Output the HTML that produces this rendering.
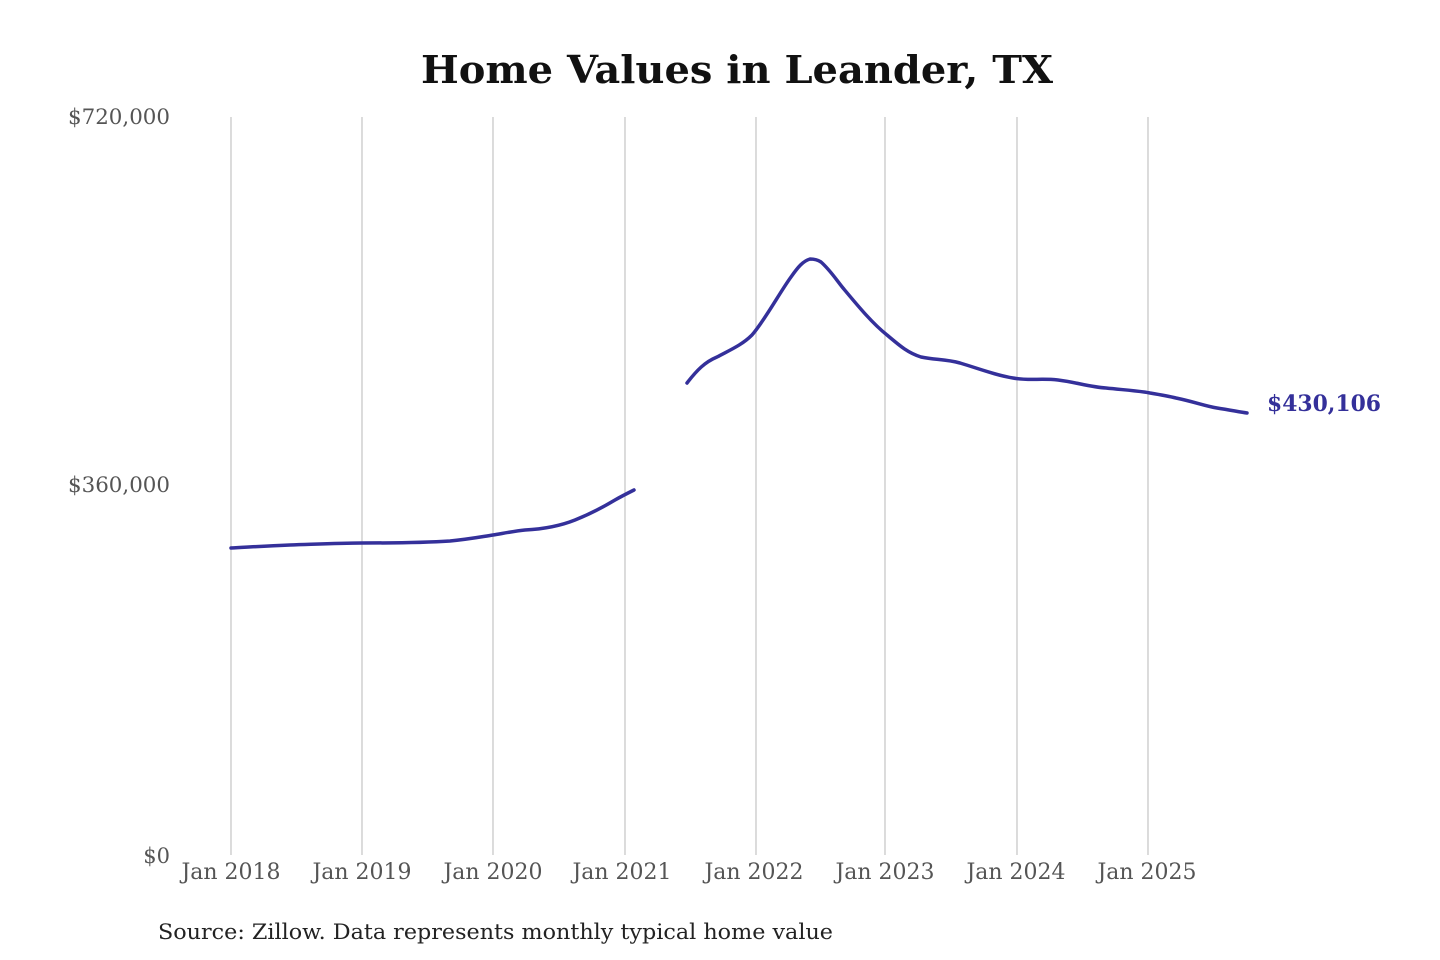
<!DOCTYPE html>
<html><head><meta charset="utf-8"><style>
html,body{margin:0;padding:0;background:#fff;}
svg{display:block;}
text{font-family:"DejaVu Serif","Liberation Serif",serif;}
</style></head><body>
<svg width="1440" height="960" viewBox="0 0 1440 960" xmlns="http://www.w3.org/2000/svg">
<rect width="1440" height="960" fill="#fff"/>
<text x="737" y="83" text-anchor="middle" font-size="38" font-weight="bold" fill="#111" textLength="632" lengthAdjust="spacingAndGlyphs">Home Values in Leander, TX</text>
<g stroke="#c8c8c8" stroke-width="1.3">
<line x1="231" y1="117" x2="231" y2="855"/>
<line x1="362" y1="117" x2="362" y2="855"/>
<line x1="493" y1="117" x2="493" y2="855"/>
<line x1="625" y1="117" x2="625" y2="855"/>
<line x1="756" y1="117" x2="756" y2="855"/>
<line x1="885" y1="117" x2="885" y2="855"/>
<line x1="1017" y1="117" x2="1017" y2="855"/>
<line x1="1148" y1="117" x2="1148" y2="855"/>
</g>
<g font-size="21" fill="#555" text-anchor="end">
<text x="170" y="124" textLength="102" lengthAdjust="spacingAndGlyphs">$720,000</text>
<text x="170" y="492" textLength="102" lengthAdjust="spacingAndGlyphs">$360,000</text>
<text x="170" y="863">$0</text>
</g>
<g font-size="22" fill="#555" text-anchor="middle">
<text x="231" y="879" textLength="99" lengthAdjust="spacingAndGlyphs">Jan 2018</text>
<text x="362" y="879" textLength="99" lengthAdjust="spacingAndGlyphs">Jan 2019</text>
<text x="493" y="879" textLength="99" lengthAdjust="spacingAndGlyphs">Jan 2020</text>
<text x="622" y="879" textLength="99" lengthAdjust="spacingAndGlyphs">Jan 2021</text>
<text x="754" y="879" textLength="99" lengthAdjust="spacingAndGlyphs">Jan 2022</text>
<text x="885" y="879" textLength="99" lengthAdjust="spacingAndGlyphs">Jan 2023</text>
<text x="1016" y="879" textLength="99" lengthAdjust="spacingAndGlyphs">Jan 2024</text>
<text x="1147" y="879" textLength="99" lengthAdjust="spacingAndGlyphs">Jan 2025</text>
</g>
<text x="158" y="939" font-size="21" fill="#222" textLength="675" lengthAdjust="spacingAndGlyphs">Source: Zillow. Data represents monthly typical home value</text>
<g fill="none" stroke="#34309a" stroke-width="3.5" stroke-linecap="round" stroke-linejoin="round">
<path d="M231,548 C250,547 265,546 290,545 C320,544 340,543 362,543 C390,543 420,543 450,541 C470,539 480,537 493,535 C505,533 515,531 525,530 C545,529 560,526 575,520 C590,514 605,506 615,500 C622,496 628,493 634,490"/>
<path d="M687,383 C697,370 705,362 717,357 C730,350 742,345 752,335 C765,320 780,292 791,277 C798,267 803,261 810,259 C815,259 818,260 821,262 C830,270 835,278 843,288 C858,306 872,323 887,335 C900,346 908,353 921,357 C935,360 945,359 960,363 C980,369 995,375 1013,378 C1030,381 1040,378 1058,380 C1075,382 1090,387 1106,388 C1125,390 1140,391 1150,393 C1162,395 1168,396 1176,398 C1195,402 1205,406 1217,408 C1230,410 1240,412 1247,413"/>
</g>
<text x="1267" y="411" font-size="22" font-weight="bold" fill="#34309a" textLength="114" lengthAdjust="spacingAndGlyphs">$430,106</text>
</svg>
</body></html>
